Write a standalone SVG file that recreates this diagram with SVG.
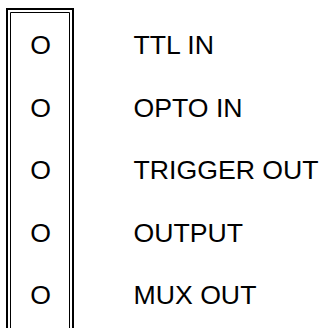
<svg xmlns="http://www.w3.org/2000/svg" width="320" height="328" viewBox="0 0 320 328">
<style>
.t{font-family:"Liberation Sans",Arial,sans-serif;font-size:26.67px;fill:#000}
.o{text-anchor:middle}
</style>
<rect width="320" height="328" fill="#fff"/>
<g id="frame" fill="none" stroke="#000">
<path d="M7 330V9H73V330" stroke-width="2"/>
<path d="M10.5 330V12.5H69.5V330" stroke-width="1"/>
</g>
<g id="row1"><text class="t o" x="40.5" y="54">O</text><text class="t" x="133.5" y="54">TTL IN</text></g>
<g id="row2"><text class="t o" x="40.5" y="116.5">O</text><text class="t" x="133.5" y="116.5">OPTO IN</text></g>
<g id="row3"><text class="t o" x="40.5" y="179">O</text><text class="t" x="133.5" y="179">TRIGGER OUT</text></g>
<g id="row4"><text class="t o" x="40.5" y="241.5">O</text><text class="t" x="133.5" y="241.5">OUTPUT</text></g>
<g id="row5"><text class="t o" x="40.5" y="304">O</text><text class="t" x="133.5" y="304">MUX OUT</text></g>
</svg>
